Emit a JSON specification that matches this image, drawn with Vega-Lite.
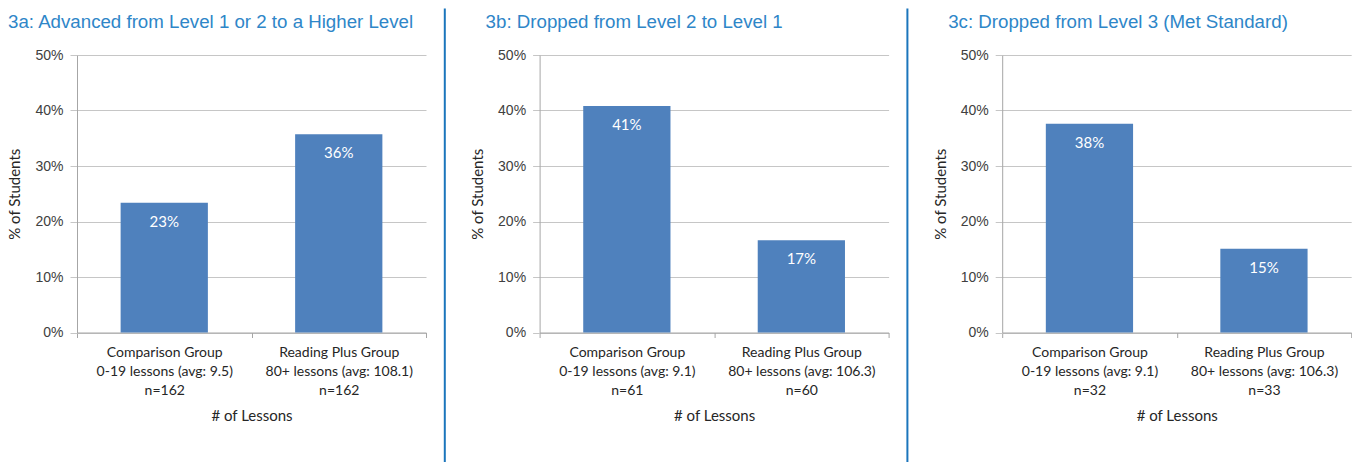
{
  "$schema": "https://vega.github.io/schema/vega-lite/v6.json",
  "background": "white",
  "padding": {"left": 7, "top": 12, "right": 0, "bottom": 0},
  "spacing": 17.3,
  "config": {
    "view": {"stroke": null},
    "title": {"anchor": "start", "frame": "group", "font": "Liberation Sans", "fontSize": 18.7, "fontWeight": "normal", "color": "#2E86C8", "offset": 16.5},
    "axisY": {
      "grid": true, "gridColor": "#C6C6C6", "domainColor": "#A6A6A6", "tickColor": "#C6C6C6", "tickSize": 7,
      "labelFont": "Liberation Sans", "labelFontSize": 14, "labelColor": "#404040", "labelPadding": 7,
      "titleFont": "Lato", "titleFontSize": 15, "titleFontWeight": "normal", "titleColor": "#262626", "titlePadding": 12
    },
    "axisX": {
      "labelAngle": 0, "domainColor": "#A6A6A6", "tickColor": "#A6A6A6", "tickSize": 5, "tickBand": "extent",
      "labelFont": "Lato", "labelFontSize": 14, "labelColor": "#262626", "labelLineHeight": 19, "labelPadding": 8, "labelLimit": 0,
      "titleFont": "Lato", "titleFontSize": 15, "titleFontWeight": "normal", "titleColor": "#262626", "titlePadding": 11
    }
  },
  "hconcat": [
    {
      "title": {"text": "3a: Advanced from Level 1 or 2 to a Higher Level", "dx": -69},
      "width": 349, "height": 277.5,
      "data": {"values": [
        {"group": "Comparison Group|0-19 lessons (avg: 9.5)|n=162", "pct": 0.234},
        {"group": "Reading Plus Group|80+ lessons (avg: 108.1)|n=162", "pct": 0.357}
      ]},
      "encoding": {
        "x": {"field": "group", "type": "nominal", "sort": null, "scale": {"paddingInner": 0, "paddingOuter": 0},
              "axis": {"title": "# of Lessons", "labelExpr": "split(datum.label, '|')"}},
        "y": {"field": "pct", "type": "quantitative", "scale": {"domain": [0, 0.5]},
              "axis": {"title": "% of Students", "values": [0, 0.1, 0.2, 0.3, 0.4, 0.5], "format": ".0%"}}
      },
      "layer": [
        {"mark": {"type": "bar", "color": "#4F81BD", "width": {"band": 0.5}}},
        {"mark": {"type": "text", "color": "white", "font": "Lato", "fontSize": 15, "baseline": "middle", "dy": 19},
         "encoding": {"text": {"field": "pct", "type": "quantitative", "format": ".0%"}}}
      ]
    },
    {
      "width": 8, "height": 407,
      "data": {"values": [{"s": 0.5}]},
      "mark": {"type": "point", "opacity": 0, "size": 0},
      "encoding": {
        "y": {"field": "s", "type": "quantitative", "scale": {"domain": [0, 1], "range": [407, -47]},
              "axis": {"title": null, "labels": false, "ticks": false, "grid": false, "domainColor": "#1B75BC", "domainWidth": 2}}
      }
    },
    {
      "title": {"text": "3b: Dropped from Level 2 to Level 1", "dx": -54},
      "width": 349, "height": 277.5,
      "data": {"values": [
        {"group": "Comparison Group|0-19 lessons (avg: 9.1)|n=61", "pct": 0.408},
        {"group": "Reading Plus Group|80+ lessons (avg: 106.3)|n=60", "pct": 0.166}
      ]},
      "encoding": {
        "x": {"field": "group", "type": "nominal", "sort": null, "scale": {"paddingInner": 0, "paddingOuter": 0},
              "axis": {"title": "# of Lessons", "labelExpr": "split(datum.label, '|')"}},
        "y": {"field": "pct", "type": "quantitative", "scale": {"domain": [0, 0.5]},
              "axis": {"title": "% of Students", "values": [0, 0.1, 0.2, 0.3, 0.4, 0.5], "format": ".0%"}}
      },
      "layer": [
        {"mark": {"type": "bar", "color": "#4F81BD", "width": {"band": 0.5}}},
        {"mark": {"type": "text", "color": "white", "font": "Lato", "fontSize": 15, "baseline": "middle", "dy": 19},
         "encoding": {"text": {"field": "pct", "type": "quantitative", "format": ".0%"}}}
      ]
    },
    {
      "width": 8, "height": 407,
      "data": {"values": [{"s": 0.5}]},
      "mark": {"type": "point", "opacity": 0, "size": 0},
      "encoding": {
        "y": {"field": "s", "type": "quantitative", "scale": {"domain": [0, 1], "range": [407, -47]},
              "axis": {"title": null, "labels": false, "ticks": false, "grid": false, "domainColor": "#1B75BC", "domainWidth": 2}}
      }
    },
    {
      "title": {"text": "3c: Dropped from Level 3 (Met Standard)", "dx": -54},
      "width": 349, "height": 277.5,
      "data": {"values": [
        {"group": "Comparison Group|0-19 lessons (avg: 9.1)|n=32", "pct": 0.376},
        {"group": "Reading Plus Group|80+ lessons (avg: 106.3)|n=33", "pct": 0.151}
      ]},
      "encoding": {
        "x": {"field": "group", "type": "nominal", "sort": null, "scale": {"paddingInner": 0, "paddingOuter": 0},
              "axis": {"title": "# of Lessons", "labelExpr": "split(datum.label, '|')"}},
        "y": {"field": "pct", "type": "quantitative", "scale": {"domain": [0, 0.5]},
              "axis": {"title": "% of Students", "values": [0, 0.1, 0.2, 0.3, 0.4, 0.5], "format": ".0%"}}
      },
      "layer": [
        {"mark": {"type": "bar", "color": "#4F81BD", "width": {"band": 0.5}}},
        {"mark": {"type": "text", "color": "white", "font": "Lato", "fontSize": 15, "baseline": "middle", "dy": 19},
         "encoding": {"text": {"field": "pct", "type": "quantitative", "format": ".0%"}}}
      ]
    }
  ]
}
